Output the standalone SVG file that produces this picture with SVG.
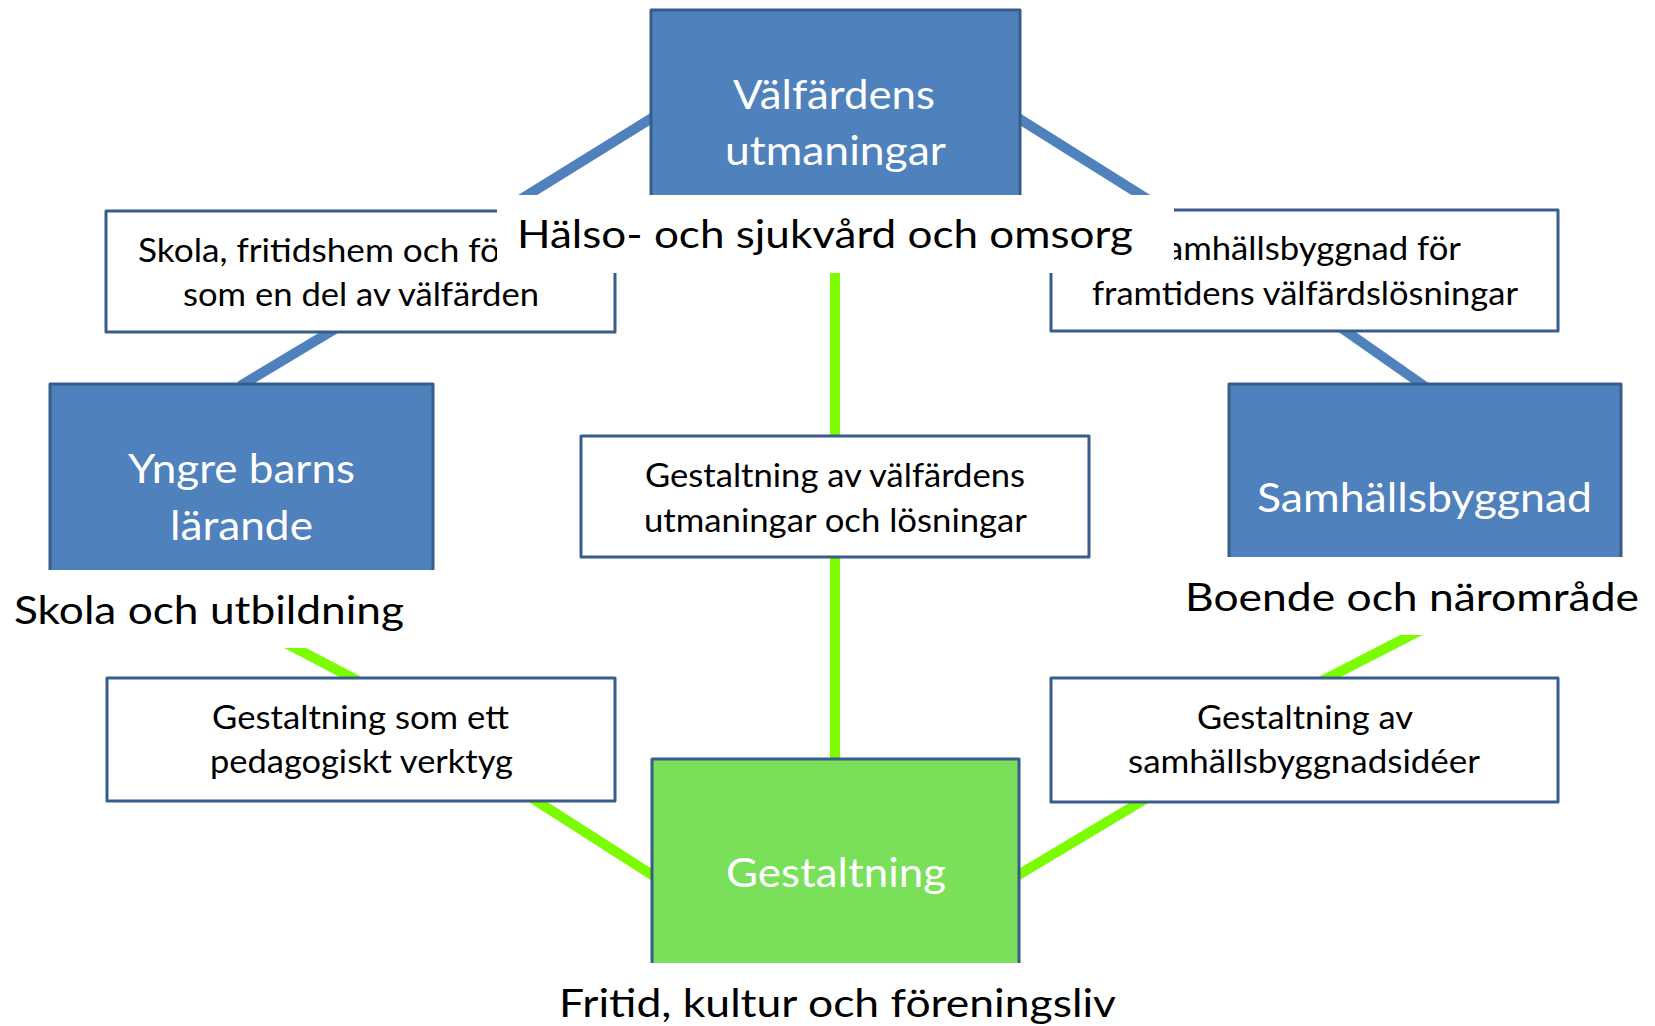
<svg xmlns="http://www.w3.org/2000/svg" width="1655" height="1026" viewBox="0 0 1655 1026">
<style>
.blue{fill:#4F81BD;stroke:#385D8A;stroke-width:3;stroke-linejoin:round}
.green{fill:#7AE05A;stroke:#385D8A;stroke-width:3;stroke-linejoin:round}
.white{fill:#FFFFFF;stroke:#385D8A;stroke-width:3;stroke-linejoin:round}
.lblbg{fill:#FFFFFF;stroke:none}
.cb{stroke:#4F81BD;stroke-width:10;fill:none}
.cg{stroke:#7CFC00;stroke-width:10;fill:none}
text{font-family:Lato,"Open Sans","Liberation Sans",sans-serif;lengthAdjust:spacingAndGlyphs}
.big{font-size:41px;fill:#FFFFFF}
.small{font-size:33px;fill:#000000}
.lbl{font-size:39px;fill:#000000}
</style>
<rect x="0" y="0" width="1655" height="1026" fill="#FFFFFF"/>
<g id="connectors">
  <line class="cb" x1="660" y1="113" x2="510" y2="206"/>
  <line class="cb" x1="1010" y1="113" x2="1160" y2="207"/>
  <line class="cb" x1="335" y1="329" x2="240" y2="386"/>
  <line class="cb" x1="1340" y1="327" x2="1430" y2="390"/>
  <line class="cg" x1="835" y1="260" x2="835" y2="770"/>
  <line class="cg" x1="276" y1="638" x2="366" y2="685"/>
  <line class="cg" x1="524" y1="793" x2="660" y2="880"/>
  <line class="cg" x1="1152" y1="795" x2="1010" y2="880"/>
  <line class="cg" x1="1310" y1="687" x2="1425" y2="628"/>
</g>
<g id="node-valfardens">
  <rect class="blue" x="651" y="10" width="369" height="200"/>
  <text class="big" x="733" y="109" textLength="202" lengthAdjust="spacingAndGlyphs">Välfärdens</text>
  <text class="big" x="725" y="165" textLength="221" lengthAdjust="spacingAndGlyphs">utmaningar</text>
</g>
<g id="node-skola-fritidshem">
  <rect class="white" x="106" y="211" width="509" height="121"/>
  <text class="small" x="138" y="262" textLength="362" lengthAdjust="spacingAndGlyphs">Skola, fritidshem och fö</text>
  <text class="small" x="183" y="306" textLength="356" lengthAdjust="spacingAndGlyphs">som en del av välfärden</text>
</g>
<g id="node-samhallsbyggnad-for">
  <rect class="white" x="1051" y="210" width="507" height="121"/>
  <text class="small" x="1166" y="260" textLength="295" lengthAdjust="spacingAndGlyphs">amhällsbyggnad för</text>
  <text class="small" x="1092" y="305" textLength="426" lengthAdjust="spacingAndGlyphs">framtidens välfärdslösningar</text>
</g>
<g id="node-yngre">
  <rect class="blue" x="50" y="384" width="383" height="200"/>
  <text class="big" x="128" y="483" textLength="227" lengthAdjust="spacingAndGlyphs">Yngre barns</text>
  <text class="big" x="170" y="540" textLength="143" lengthAdjust="spacingAndGlyphs">lärande</text>
</g>
<g id="node-samhallsbyggnad">
  <rect class="blue" x="1229" y="384" width="392" height="190"/>
  <text class="big" x="1257" y="512" textLength="335" lengthAdjust="spacingAndGlyphs">Samhällsbyggnad</text>
</g>
<g id="node-gestaltning-valfard">
  <rect class="white" x="581" y="436" width="508" height="121"/>
  <text class="small" x="645" y="487" textLength="380" lengthAdjust="spacingAndGlyphs">Gestaltning av välfärdens</text>
  <text class="small" x="644" y="532" textLength="383" lengthAdjust="spacingAndGlyphs">utmaningar och lösningar</text>
</g>
<g id="node-gestaltning-pedagogiskt">
  <rect class="white" x="107" y="678" width="508" height="123"/>
  <text class="small" x="212" y="729" textLength="297" lengthAdjust="spacingAndGlyphs">Gestaltning som ett</text>
  <text class="small" x="210" y="773" textLength="303" lengthAdjust="spacingAndGlyphs">pedagogiskt verktyg</text>
</g>
<g id="node-gestaltning-samhall">
  <rect class="white" x="1051" y="678" width="507" height="124"/>
  <text class="small" x="1197" y="729" textLength="216" lengthAdjust="spacingAndGlyphs">Gestaltning av</text>
  <text class="small" x="1128" y="773" textLength="352" lengthAdjust="spacingAndGlyphs">samhällsbyggnadsidéer</text>
</g>
<g id="node-gestaltning">
  <rect class="green" x="652" y="759" width="367" height="220"/>
  <text class="big" x="726" y="887" textLength="220" lengthAdjust="spacingAndGlyphs">Gestaltning</text>
</g>
<g id="label-halso">
  <rect class="lblbg" x="497" y="195" width="677" height="78"/>
  <text class="lbl" x="517" y="248" textLength="616" lengthAdjust="spacingAndGlyphs">Hälso- och sjukvård och omsorg</text>
</g>
<g id="label-skola">
  <rect class="lblbg" x="0" y="570" width="440" height="78"/>
  <text class="lbl" x="14" y="624" textLength="390" lengthAdjust="spacingAndGlyphs">Skola och utbildning</text>
</g>
<g id="label-boende">
  <rect class="lblbg" x="1165" y="557" width="490" height="78"/>
  <text class="lbl" x="1185" y="611" textLength="454" lengthAdjust="spacingAndGlyphs">Boende och närområde</text>
</g>
<g id="label-fritid">
  <rect class="lblbg" x="540" y="963" width="595" height="63"/>
  <text class="lbl" x="559" y="1017" textLength="557" lengthAdjust="spacingAndGlyphs">Fritid, kultur och föreningsliv</text>
</g>
</svg>
